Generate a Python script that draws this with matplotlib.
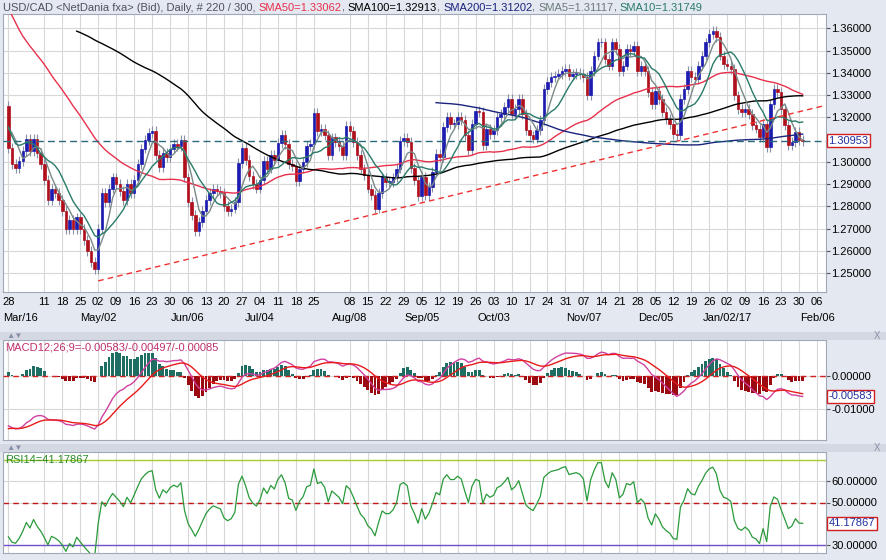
import numpy as np
import pandas as pd
import matplotlib.pyplot as plt
from matplotlib.patches import Rectangle

# closes before the visible window (Dec 2015 - Mar 25 2016), used for the long SMAs
prior_closes = [1.3340, 1.3390, 1.3370, 1.3400, 1.3480, 1.3530, 1.3610, 1.3670, 1.3690, 1.3740, 1.3780,
                1.3790, 1.3850, 1.3910, 1.3950, 1.3880, 1.3870, 1.3880, 1.3900, 1.3840, 1.3860, 1.3840,
                1.3930, 1.4010, 1.4040, 1.4150, 1.4120, 1.4170, 1.4240, 1.4330, 1.4420, 1.4590,
                1.4530, 1.4650, 1.4450, 1.4270, 1.4150, 1.4100, 1.4100, 1.4000, 1.3980, 1.4020,
                1.4130, 1.4000, 1.3870, 1.3900, 1.3880, 1.3900, 1.3950, 1.3840, 1.3820, 1.3900,
                1.3810, 1.3770, 1.3770, 1.3730, 1.3770, 1.3650, 1.3560, 1.3530, 1.3520, 1.3500,
                1.3400, 1.3350, 1.3330, 1.3330, 1.3300, 1.3380, 1.3410, 1.3430, 1.3360, 1.3400,
                1.3320, 1.3080, 1.2990, 1.3020, 1.3100, 1.3140, 1.3210, 1.3250]

# daily closes from 2016-03-28 to 2017-01-31
closes = [1.3063, 1.2989, 1.2974, 1.3004, 1.3048,
          1.3105, 1.3050, 1.3105, 1.3040, 1.2990,
          1.2920, 1.2830, 1.2880, 1.2860, 1.2830,
          1.2780, 1.2700, 1.2740, 1.2700, 1.2750,
          1.2700, 1.2650, 1.2600, 1.2550, 1.2520,
          1.2700, 1.2860, 1.2820, 1.2880, 1.2930,
          1.2900, 1.2870, 1.2830, 1.2900, 1.2860,
          1.2920, 1.2990, 1.3060, 1.3100, 1.3130,
          1.3140, 1.3030, 1.2975, 1.3040, 1.3020,
          1.3060, 1.3080, 1.3070, 1.3100, 1.2930,
          1.2820, 1.2760, 1.2690, 1.2730, 1.2780,
          1.2830, 1.2860, 1.2880, 1.2870, 1.2860,
          1.2800, 1.2780, 1.2790, 1.2820, 1.2996,
          1.3063, 1.3010, 1.2936, 1.2900, 1.2880,
          1.2920, 1.3003, 1.2970, 1.3030, 1.3010,
          1.3085, 1.3122, 1.3080, 1.2990, 1.2980,
          1.2913, 1.2970, 1.3000, 1.3070, 1.3080,
          1.3219, 1.3137, 1.3150, 1.3120, 1.3030,
          1.3110, 1.3090, 1.3070, 1.3030, 1.3160,
          1.3140, 1.3090, 1.3030, 1.2970, 1.2940,
          1.2880, 1.2850, 1.2790, 1.2860, 1.2930,
          1.2910, 1.2910, 1.2930, 1.2970, 1.3093,
          1.3107, 1.3090, 1.2973, 1.2920, 1.2846,
          1.2934, 1.2851, 1.2888, 1.2955, 1.3037,
          1.3022, 1.3157, 1.3201, 1.3172, 1.3172,
          1.3201, 1.3187, 1.3120, 1.3052, 1.3172,
          1.3231, 1.3224, 1.3075, 1.3149, 1.3127,
          1.3142, 1.3201, 1.3216, 1.3246, 1.3284,
          1.3216, 1.3239, 1.3284, 1.3216, 1.3142,
          1.3119, 1.3105, 1.3142, 1.3187, 1.3328,
          1.3358, 1.3380, 1.3388, 1.3395, 1.3410,
          1.3418, 1.3388, 1.3395, 1.3400, 1.3395,
          1.3380, 1.3299, 1.3410, 1.3478, 1.3537,
          1.3537, 1.3463, 1.3433, 1.3537, 1.3507,
          1.3410, 1.3433, 1.3507, 1.3500, 1.3522,
          1.3410, 1.3433, 1.3410, 1.3313, 1.3261,
          1.3321, 1.3284, 1.3224, 1.3194, 1.3172,
          1.3127, 1.3120, 1.3284, 1.3328, 1.3410,
          1.3380, 1.3373, 1.3433, 1.3478, 1.3537,
          1.3575, 1.3590, 1.3560, 1.3478, 1.3440,
          1.3433, 1.3418, 1.3299, 1.3239, 1.3224,
          1.3239, 1.3216, 1.3164, 1.3150, 1.3112,
          1.3172, 1.3067, 1.3261, 1.3328, 1.3313,
          1.3239, 1.3164, 1.3075, 1.3090, 1.3134,
          1.3097, 1.3095]

# user trend line anchors (bar index, price)
trend_pts = [(25, 1.2465), (184, 1.3085)]

price_ticks = [1.25, 1.26, 1.27, 1.28, 1.29, 1.30, 1.32, 1.33, 1.34, 1.35, 1.36]
skip_mondays = ['2016-04-04', '2016-08-01']
month_labels = {'2016-03-28': 'Mar/16', '2016-05-02': 'May/02', '2016-06-06': 'Jun/06',
                '2016-07-04': 'Jul/04', '2016-08-08': 'Aug/08', '2016-09-05': 'Sep/05',
                '2016-10-03': 'Oct/03', '2016-11-07': 'Nov/07', '2016-12-05': 'Dec/05',
                '2017-01-02': 'Jan/02/17', '2017-02-06': 'Feb/06'}

n = len(closes)
npre = len(prior_closes)
allc = pd.Series(prior_closes + closes)
c = np.array(closes)
o = np.array([prior_closes[-1]] + closes[:-1])
hi = np.maximum(o, c) + 0.0022
lo = np.minimum(o, c) - 0.0022
x = np.arange(n)

def sma(k):
    return allc.rolling(k).mean().values[npre:]

ema12 = allc.ewm(span=12, adjust=False).mean()
ema26 = allc.ewm(span=26, adjust=False).mean()
macd = (ema12 - ema26)
sig = macd.ewm(span=9, adjust=False).mean()
macd, sig = macd.values[npre:], sig.values[npre:]
hist = macd - sig
d = allc.diff()
up = d.clip(lower=0).ewm(alpha=1/14, adjust=False).mean()
dn = (-d.clip(upper=0)).ewm(alpha=1/14, adjust=False).mean()
rsi = (100 - 100 / (1 + up / dn)).values[npre:]

W, H = 886, 560
fig = plt.figure(figsize=(W / 100, H / 100), dpi=100)
fig.patch.set_facecolor('#e4e8f0')
plt.rcParams['font.family'] = ['Liberation Sans', 'DejaVu Sans']

def box(l, t, r, b):
    return [l / W, 1 - b / H, (r - l) / W, (b - t) / H]

ax = fig.add_axes(box(3, 14, 826, 292))
ax2 = fig.add_axes(box(3, 340, 826, 440))
ax3 = fig.add_axes(box(3, 452, 826, 553))
x0, x1 = -1.5, 227.5
for a in (ax, ax2, ax3):
    a.set_facecolor('white')
    a.set_xlim(x0, x1)
    for s in a.spines.values():
        s.set_color('#a0a8b8')
    a.yaxis.tick_right()
    a.tick_params(axis='y', labelsize=8, length=3, color='#555555', pad=1)
    a.tick_params(axis='x', length=0)

dates = pd.bdate_range('2016-03-28', periods=n + 10)
mondays = [(i, dt) for i, dt in enumerate(dates)
           if dt.weekday() == 0 and i < x1 - 1 and dt.strftime('%Y-%m-%d') not in skip_mondays]
tpos = [i for i, _ in mondays]
for a in (ax, ax2, ax3):
    a.set_xticks(tpos)
    a.grid(True, color='#d8d8d8', lw=0.8)
    a.set_axisbelow(True)
ax.set_xticklabels([dt.strftime('%d') for _, dt in mondays], fontsize=8)
ax2.set_xticklabels([])
ax3.set_xticklabels([])
for i, dt in mondays:
    lab = month_labels.get(dt.strftime('%Y-%m-%d'))
    if lab:
        if i == 0:
            ax.text(0, -0.075, lab, transform=ax.transAxes, ha='left', va='top', fontsize=8)
        else:
            ax.text(i, -0.075, lab, transform=ax.get_xaxis_transform(), ha='center', va='top', fontsize=8)

# main panel
ax.set_ylim(1.2415, 1.3665)
ax.set_yticks(price_ticks)
ax.set_yticklabels(['%.5f' % t for t in price_ticks])
upc, dnc = '#1c1cb0', '#b0101c'
for i in range(n):
    col = upc if c[i] >= o[i] else dnc
    ax.vlines(x[i], lo[i], hi[i], color='#8890a8', lw=0.8, zorder=2)
    ax.add_patch(Rectangle((x[i] - 0.35, min(o[i], c[i])), 0.7, max(abs(c[i] - o[i]), 0.0004),
                           facecolor=col, edgecolor=col, lw=0.5, zorder=3))
ax.plot(x, sma(50), color='#e8304c', lw=1, zorder=4)
ax.plot(x, sma(100), color='black', lw=1, zorder=4)
ax.plot(x, sma(200), color='#1a237e', lw=1, zorder=4)
ax.plot(x, sma(5), color='#7a8a88', lw=1, zorder=4)
ax.plot(x, sma(10), color='#2a7a6a', lw=1, zorder=4)
(ta, pa), (tb, pb) = trend_pts
slope = (pb - pa) / (tb - ta)
ax.plot([ta, x1], [pa, pa + slope * (x1 - ta)], color='#f03030', lw=1, ls=(0, (4, 3)), zorder=5)
last = c[-1]
ax.axhline(last, color='#2a6a7a', lw=1, ls=(0, (5, 3)), zorder=5)
ax.text(1.003, last, '%.5f' % 1.30953, transform=ax.get_yaxis_transform(), va='center', fontsize=8,
        color='#2030a0', bbox=dict(boxstyle='square,pad=0.15', fc='white', ec='#d02020', lw=1))

# title line
parts = [('USD/CAD <NetDania fxa> (Bid), Daily, # 220 / 300, ', '#505060'),
         ('SMA50=1.33062', '#e8304c'), (', ', '#505060'), ('SMA100=1.32913', 'black'), (', ', '#505060'),
         ('SMA200=1.31202', '#1a237e'), (', ', '#505060'), ('SMA5=1.31117', '#6a7a78'), (', ', '#505060'),
         ('SMA10=1.31749', '#2a7a6a')]
fig.canvas.draw()
r = fig.canvas.get_renderer()
px = 3
for t, col in parts:
    tt = fig.text(px / W, 1 - 8 / H, t, fontsize=8, color=col, va='center')
    px += tt.get_window_extent(r).width

# header strips for sub panels
for top in (332, 444):
    fig.patches.append(Rectangle((0, 1 - (top + 8) / H), 1, 8 / H, transform=fig.transFigure,
                                 facecolor='#d4d8e2', edgecolor='none'))
    fig.text(6 / W, 1 - (top + 4) / H, '▲▼', fontsize=6, color='#8890a8', va='center')
    fig.text(874 / W, 1 - (top + 4) / H, 'X', fontsize=7, color='#8890a8', va='center')

# MACD
ax2.set_ylim(-0.0195, 0.0112)
ax2.set_yticks([0.0, -0.01])
ax2.set_yticklabels(['0.00000', '-0.01000'])
ax2.bar(x, hist * 1.5, width=0.8, color=np.where(hist >= 0, '#1e6e64', '#9a0a10'), zorder=2)
ax2.axhline(0, color='#d02020', lw=1, ls=(0, (4, 3)), zorder=3)
ax2.plot(x, macd, color='#d040a0', lw=1, zorder=4)
ax2.plot(x, sig, color='#e81a1a', lw=1, zorder=4)
ax2.text(0.003, 0.97, 'MACD12;26;9=-0.00583/-0.00497/-0.00085', transform=ax2.transAxes, fontsize=8,
         color='#c03070', va='top')
ax2.text(1.003, macd[-1], '-0.00583', transform=ax2.get_yaxis_transform(), va='center', fontsize=8,
         color='#2030a0', bbox=dict(boxstyle='square,pad=0.15', fc='white', ec='#d02020', lw=1))

# RSI
ax3.set_ylim(26.5, 73.5)
ax3.set_yticks([30, 50, 60])
ax3.set_yticklabels(['30.00000', '50.00000', '60.00000'])
ax3.axhline(70, color='#a8cc30', lw=1)
ax3.axhline(30, color='#7050d0', lw=1)
ax3.axhline(50, color='#c01818', lw=1, ls=(0, (4, 3)))
ax3.plot(x, rsi, color='#2a9a3a', lw=0.9)
ax3.text(0.003, 0.97, 'RSI14=41.17867', transform=ax3.transAxes, fontsize=8, color='#2a8a2a', va='top')
ax3.text(1.003, rsi[-1], '41.17867', transform=ax3.get_yaxis_transform(), va='center', fontsize=8,
         color='#2030a0', bbox=dict(boxstyle='square,pad=0.15', fc='white', ec='#d02020', lw=1))

fig.savefig('out.png', dpi=100, facecolor=fig.get_facecolor())
